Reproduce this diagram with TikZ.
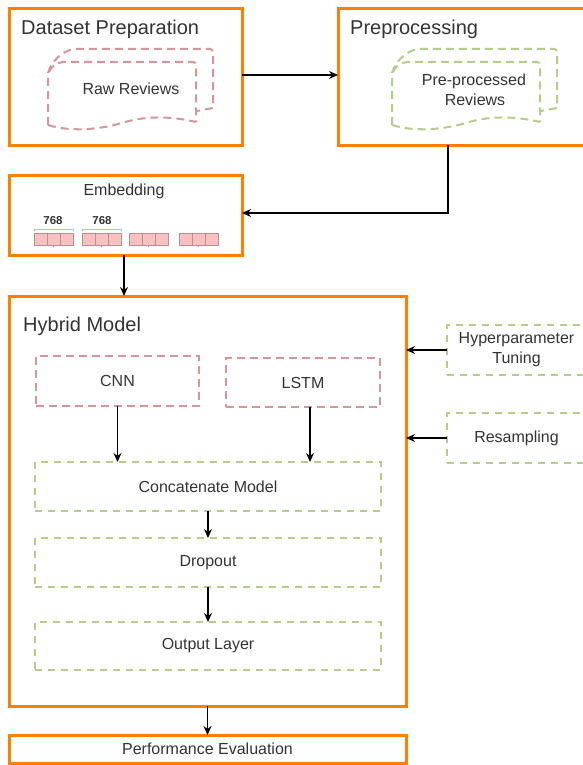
\documentclass[tikz,border=0pt]{standalone}
\usepackage{fontspec}
\setmainfont{Liberation Sans}
\usetikzlibrary{arrows.meta,calc}
\definecolor{orng}{HTML}{FF8000}
\definecolor{pinkd}{HTML}{D49799}
\definecolor{greend}{HTML}{B5CC8A}
\definecolor{txt}{HTML}{333333}
\definecolor{cellfill}{HTML}{F8C0C0}
\definecolor{celldraw}{HTML}{B89090}
\definecolor{bracec}{HTML}{A9C4EB}
\tikzset{
  stage/.style={draw=orng,line width=3pt,inner sep=0pt,outer sep=0pt,fill=none},
  pinkbox/.style={draw=pinkd,line width=1.8pt,dash pattern=on 8pt off 5pt,inner sep=0pt,outer sep=0pt,text=txt,font=\fontsize{16}{19}\selectfont},
  greenbox/.style={draw=greend,line width=1.8pt,dash pattern=on 7pt off 6pt,inner sep=0pt,outer sep=0pt,text=txt,font=\fontsize{16}{20}\selectfont,align=center},
  title/.style={text=txt,font=\fontsize{20}{24}\selectfont,inner sep=0pt},
  lbl/.style={text=txt,font=\fontsize{16}{19}\selectfont,inner sep=0pt,align=center},
  arr/.style={draw=black,line width=1.3pt,-{Stealth[length=9pt,width=8pt]}},
  cell/.style={draw=celldraw,fill=cellfill,line width=0.8pt},
  docline/.style={line width=2pt,dash pattern=on 8pt off 5pt}
}
\begin{document}
\begin{tikzpicture}[x=1pt,y=-1pt]
\useasboundingbox (0,0) rectangle (582,765);
% stages
\node[stage,minimum width=233pt,minimum height=136pt] (dataset) at (125.5,77) {};
\node[stage,minimum width=252pt,minimum height=136pt] (preproc) at (464,77) {};
\node[stage,minimum width=233pt,minimum height=80pt] (embed) at (125.5,215) {};
\node[stage,minimum width=397pt,minimum height=410pt] (hybrid) at (207.5,501) {};
\node[stage,minimum width=397pt,minimum height=28pt,text=txt,font=\fontsize{16}{19}\selectfont] (perf) at (207.5,749) {Performance Evaluation};
% titles
\node[title,anchor=base west] (tdataset) at (21,35) {Dataset Preparation};
\node[title,anchor=base west] (tpreproc) at (350,35) {Preprocessing};
\node[title,anchor=base west] (thybrid) at (23,331) {Hybrid Model};
\node[lbl,anchor=base] (tembed) at (124,195) {Embedding};
% multi-document shapes
\foreach \dx/\col in {0/pinkd,344/greend}{
  \begin{scope}[xshift=\dx pt]
    \draw[docline,draw=\col] (48,125) -- (48,73) .. controls (52,60) and (62,52) .. (73,49) -- (210,49)
       .. controls (212,49) and (213,50) .. (213,53) -- (213,108) -- (197,111);
    \draw[docline,draw=\col] (49,72) .. controls (52,66) and (56,63) .. (63,62) -- (193,62)
       .. controls (195,62) and (196,63) .. (196,66) -- (196,122);
    \draw[docline,draw=\col] (48,125) .. controls (70,132) and (100,130) .. (125,122)
       .. controls (150,115) and (175,117) .. (196,122);
  \end{scope}
}
\node[lbl,anchor=base] (raw) at (131,95) {Raw Reviews};
\node[lbl,anchor=base] (pre1) at (474,86) {Pre-processed};
\node[lbl,anchor=base] (pre2) at (475,106) {Reviews};
% embedding cells
\foreach \gx in {34,82,129,179}{
  \foreach \i in {0,1,2}{
    \draw[cell] ($(\gx,233)+(13*\i,0)$) rectangle ++(13,12);
  }
  \draw[celldraw,line width=0.6pt] ($(\gx,245)+(19.5,0)$) -- ++(0,2);
}
\foreach \gx in {34,82}{
  \draw[bracec,line width=0.8pt] (\gx,231) -- (\gx,229) -- ($(\gx,229)+(39,0)$) -- ($(\gx,231)+(39,0)$);
}
\node[text=txt,font=\fontsize{11.5}{13}\selectfont\bfseries,inner sep=0pt] (d1) at (53,221) {768};
\node[text=txt,font=\fontsize{11.5}{13}\selectfont\bfseries,inner sep=0pt] (d2) at (102,221) {768};
% inner model boxes
\node[pinkbox,minimum width=163pt,minimum height=50pt] (cnn) at (117.5,381) {CNN};
\node[pinkbox,minimum width=154pt,minimum height=49pt] (lstm) at (303,382.5) {LSTM};
\node[greenbox,minimum width=346pt,minimum height=49pt] (concat) at (208,486.5) {Concatenate Model};
\node[greenbox,minimum width=346pt,minimum height=49pt] (dropout) at (208,562.5) {Dropout};
\node[greenbox,minimum width=346pt,minimum height=48pt] (output) at (208,646) {Output Layer};
\node[greenbox,minimum width=139pt,minimum height=50pt] (hyper) at (516.5,350) {Hyperparameter\\Tuning};
\node[greenbox,minimum width=139pt,minimum height=50pt] (resamp) at (516.5,438) {Resampling};
% connectors
\draw[arr] ([yshift=2pt]dataset.east) -- ([yshift=2pt]preproc.west);
\draw[arr] ([xshift=-16pt]preproc.south) |- ([yshift=2pt]embed.east);
\draw[arr] ([xshift=-1.5pt]embed.south) -- ([xshift=-1.5pt]embed.south |- hybrid.north);
\draw[arr] (cnn.south) -- (cnn.south |- concat.north);
\draw[arr] ([xshift=7pt]lstm.south) -- ([xshift=7pt]lstm.south |- concat.north);
\draw[arr] (concat.south) -- (dropout.north);
\draw[arr] (dropout.south) -- (output.north);
\draw[arr] (hybrid.south) -- (perf.north);
\draw[arr] (hyper.west) -- (hyper.west -| hybrid.east);
\draw[arr] (resamp.west) -- (resamp.west -| hybrid.east);
\end{tikzpicture}
\end{document}
